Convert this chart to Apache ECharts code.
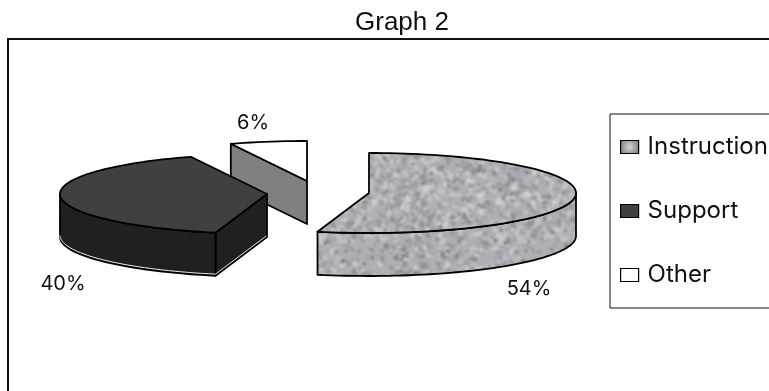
<!DOCTYPE html>
<html>
<head>
<meta charset="utf-8">
<style>html,body{margin:0;padding:0;background:#fff}#c{width:769px;height:391px}</style>
<script src="https://cdn.jsdelivr.net/npm/echarts@6/dist/echarts.min.js"></script>
</head>
<body>
<div id="c"></div>
<script>
const categories = ['Instruction', 'Support', 'Other'];
const shares = [54, 40, 6];
const chartTitle = 'Graph 2';

// Layout of the tilted pie (drawing constants, not data)
const RX = 207, RY = 40, DEPTH = 43;
const apexes = { Instruction: [369, 193], Support: [267, 194], Other: [307, 181] };
const labelCentres = { Instruction: [529, 289], Support: [63, 284], Other: [253, 123] };
const FONT = 'Inter';

function mottled() {
  const size = 180, cv = document.createElement('canvas');
  cv.width = cv.height = size;
  const g = cv.getContext('2d');
  g.fillStyle = '#aeb0b4';
  g.fillRect(0, 0, size, size);
  let s = 12345;
  const next = () => (s = (s * 1103515245 + 12345) & 0x7fffffff) / 0x7fffffff;
  const blots = [['#d8d9de', 0.5, 650, 3.0], ['#85878b', 0.5, 650, 2.6], ['#55575b', 0.55, 190, 1.9]];
  g.filter = 'blur(1px)';
  blots.forEach(([c, a, n, r]) => {
    g.fillStyle = c; g.globalAlpha = a;
    for (let i = 0; i < n; i++) {
      const x = next() * size, y = next() * size;
      const rx = r * (0.5 + next()), ry = r * (0.4 + 0.5 * next());
      const rot = next() * 3;
      [[0,0],[size,0],[-size,0],[0,size],[0,-size]].forEach(([dx, dy]) => {
        g.beginPath(); g.ellipse(x + dx, y + dy, rx, ry, rot, 0, 6.3); g.fill();
      });
    }
  });
  return { image: cv, repeat: 'repeat' };
}
const texture = mottled();
const looks = {
  Instruction: { top: texture, side: texture, cut: texture },
  Support: { top: '#404040', side: '#202020', cut: '#202020' },
  Other: { top: '#ffffff', side: '#808080', cut: '#808080' }
};
const icons = {
  Instruction: new echarts.graphic.RadialGradient(0.5, 0.5, 0.6, [
    { offset: 0, color: '#d4d5d8' }, { offset: 1, color: '#8a8c90' }
  ]),
  Support: '#404040',
  Other: '#ffffff'
};

const total = shares.reduce((a, b) => a + b, 0);
const startOf = i => shares.slice(0, i).reduce((a, b) => a + b, 0) / total * 360;

function rim(c, from, to) {
  const pts = [], n = Math.max(2, Math.ceil((to - from) / 2));
  for (let k = 0; k <= n; k++) {
    const a = (from + (to - from) * k / n) * Math.PI / 180;
    pts.push([c[0] + RX * Math.sin(a), c[1] - RY * Math.cos(a)]);
  }
  return pts;
}
const drop = pts => pts.map(p => [p[0], p[1] + DEPTH]);
const poly = (points, fill, lw) => ({
  type: 'polygon', shape: { points },
  style: { fill, stroke: '#000', lineWidth: lw || 1.8, lineJoin: 'round' }
});

function renderSlice(i) {
  return function (params, api) {
    const name = categories[i], c = apexes[name], look = looks[name];
    const from = startOf(i), to = from + api.value(0) / total * 360;
    const kids = [];
    const startPt = rim(c, from, from + 1)[0];
    const endPt = rim(c, to - 1, to)[1];
    if (from > 180 && from < 360) {
      kids.push(poly([c, startPt, [startPt[0], startPt[1] + DEPTH], [c[0], c[1] + DEPTH]], look.cut));
    }
    if (to > 0 && to < 180) {
      kids.push(poly([c, endPt, [endPt[0], endPt[1] + DEPTH], [c[0], c[1] + DEPTH]], look.cut));
    }
    const wFrom = Math.max(from, 90), wTo = Math.min(to, 270);
    if (wTo > wFrom) {
      const arc = rim(c, wFrom, wTo);
      kids.push(poly(arc.concat(drop(arc).reverse()), look.side));
    }
    kids.push(poly([c].concat(rim(c, from, to)), look.top));
    if (name === 'Support') {
      const base = drop(rim(c, from, wTo)).map(p => [p[0], p[1] - 1.6]);
      kids.push({ type: 'polyline', shape: { points: [[c[0] - 0.8, c[1] + DEPTH - 1]].concat(base.slice(0, 50)) },
        style: { fill: null, stroke: '#ffffff', lineWidth: 0.9 } });
    }
    const lab = labelCentres[name];
    kids.push({
      type: 'text', x: lab[0], y: lab[1],
      style: { text: api.value(0) + '%', font: '20px ' + FONT, fill: '#111', align: 'center', verticalAlign: 'middle' }
    });
    return { type: 'group', children: kids };
  };
}

const chart = echarts.init(document.getElementById('c'));
chart.setOption({
  animation: false,
  backgroundColor: '#ffffff',
  title: {
    text: chartTitle, left: 397, top: 5, textAlign: 'center',
    textStyle: { fontFamily: '"Liberation Sans"', fontSize: 26, fontWeight: 'normal', color: '#111' }
  },
  graphic: [{
    type: 'rect', z: -1, silent: true,
    shape: { x: 8, y: 39, width: 900, height: 500 },
    style: { fill: '#fff', stroke: '#111', lineWidth: 2 }
  }],
  legend: {
    orient: 'vertical', left: 610, top: 114,
    padding: [21, 10, 21, 10],
    itemGap: 40, itemWidth: 18, itemHeight: 13, icon: 'rect',
    backgroundColor: '#fff', borderColor: '#111', borderWidth: 1, borderRadius: 0,
    textStyle: { fontFamily: FONT, fontSize: 24, color: '#111', padding: [0, 0, 0, 4] },
    selectedMode: false,
    data: categories.map(n => ({
      name: n,
      itemStyle: { color: icons[n], borderColor: '#000', borderWidth: 1.2, opacity: 1 }
    }))
  },
  series: categories.map((n, i) => ({
    type: 'custom', name: n, coordinateSystem: 'none', silent: true,
    z: n === 'Other' ? 1 : 2,
    itemStyle: { color: typeof icons[n] === 'string' ? icons[n] : '#aeb0b4' },
    renderItem: renderSlice(i),
    data: [[shares[i]]],
    clip: false
  }))
});
</script>
</body>
</html>
